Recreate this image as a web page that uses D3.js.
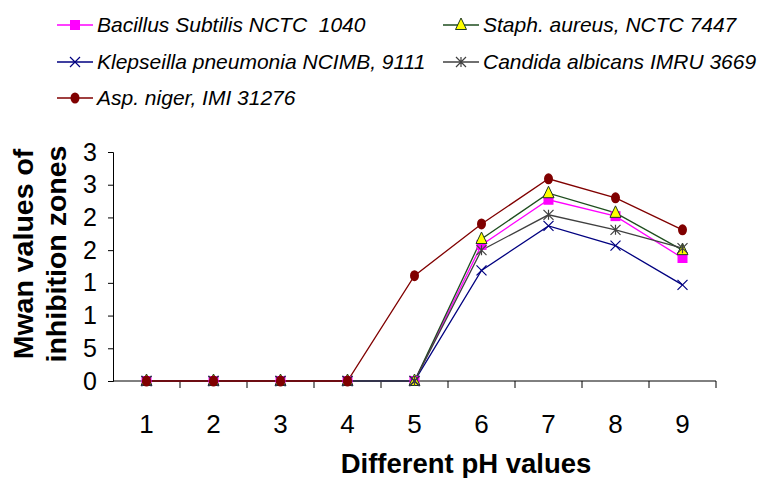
<!DOCTYPE html>
<html>
<head>
<meta charset="utf-8">
<script src="https://cdn.jsdelivr.net/npm/d3@7"></script>
<style>
  body { margin: 0; background: #fff; }
  svg { font-family: "Liberation Sans", Arial, sans-serif; }
</style>
</head>
<body>
<div id="app"></div>
<script>
const width = 762
const height = 478

// data
const phValues = ['1', '2', '3', '4', '5', '6', '7', '8', '9']
const bacillus = [0, 0, 0, 0, 0, 2.08, 2.77, 2.52, 1.88]
const staph = [0, 0, 0, 0, 0, 2.17, 2.87, 2.57, 2.00]
const klebsiella = [0, 0, 0, 0, 0, 1.69, 2.37, 2.07, 1.47]
const candida = [0, 0, 0, 0, 0, 2.00, 2.54, 2.31, 2.03]
const aspNiger = [0, 0, 0, 0, 1.61, 2.40, 3.09, 2.80, 2.31]
const yTicks = [0, 0.5, 1, 1.5, 2, 2.5, 3, 3.5]
const yTickLabels = ['0', '5', '1', '1', '2', '2', '3', '3']

const series = [
  { name: 'Bacillus Subtilis NCTC  1040', values: bacillus, color: '#ff00ff', marker: 'square' },
  { name: 'Staph. aureus, NCTC 7447', values: staph, color: '#1e4d1e', marker: 'triangle' },
  { name: 'Klepseilla pneumonia NCIMB, 9111', values: klebsiella, color: '#000080', marker: 'x' },
  { name: 'Candida albicans IMRU 3669', values: candida, color: '#404040', marker: 'star' },
  { name: 'Asp. niger, IMI 31276', values: aspNiger, color: '#800000', marker: 'circle' }
]

const plot = { left: 113, right: 716, top: 152, bottom: 381 }

const svg = d3.select('#app').append('svg')
  .attr('width', width)
  .attr('height', height)

const x = d3.scaleBand()
  .domain(phValues)
  .range([plot.left, plot.right])

const y = d3.scaleLinear()
  .domain([0, 3.5])
  .range([plot.bottom, plot.top])

// axes
const xAxis = svg.append('g')
  .attr('transform', `translate(0,${plot.bottom})`)
  .call(d3.axisBottom(x).tickSize(0).tickPadding(34))
xAxis.select('.domain').remove()
xAxis.selectAll('text').attr('font-size', 26).attr('fill', '#000')
  .attr('font-family', '"Liberation Sans", Arial, sans-serif')

// boundary ticks for the category axis
svg.append('g').selectAll('line')
  .data(phValues)
  .join('line')
  .attr('x1', d => x(d) + x.bandwidth())
  .attr('x2', d => x(d) + x.bandwidth())
  .attr('y1', plot.bottom)
  .attr('y2', plot.bottom + 7)
  .attr('stroke', '#000')
  .attr('stroke-width', 1)

const yAxis = svg.append('g')
  .attr('transform', `translate(${plot.left},0)`)
  .call(d3.axisLeft(y).tickValues(yTicks).tickSize(5).tickPadding(11)
    .tickFormat((d, i) => yTickLabels[i]))
yAxis.select('.domain').attr('stroke', '#000')
yAxis.selectAll('text').attr('font-size', 25).attr('fill', '#000')
  .attr('font-family', '"Liberation Sans", Arial, sans-serif')

svg.append('line')
  .attr('x1', plot.left).attr('x2', plot.right)
  .attr('y1', plot.bottom).attr('y2', plot.bottom)
  .attr('stroke', '#000')

// axis titles
svg.append('text')
  .attr('x', 466).attr('y', 473)
  .attr('text-anchor', 'middle')
  .attr('font-weight', 'bold')
  .attr('font-size', 27.5)
  .text('Different pH values')

const yTitle = svg.append('text')
  .attr('transform', 'translate(0,254) rotate(-90)')
  .attr('text-anchor', 'middle')
  .attr('font-weight', 'bold')
  .attr('font-size', 28.5)
yTitle.append('tspan').attr('x', 0).attr('y', 33).text('Mwan values of')
yTitle.append('tspan').attr('x', 0).attr('y', 66).text('inhibition zones')

function drawMarker(g, type, color, size) {
  const s = size
  if (type === 'square') {
    g.append('rect').attr('x', -s / 2).attr('y', -s / 2).attr('width', s).attr('height', s)
      .attr('fill', color)
  } else if (type === 'triangle') {
    g.append('path').attr('d', `M0,${-s * 0.7}L${s * 0.55},${s * 0.45}L${-s * 0.55},${s * 0.45}Z`)
      .attr('fill', '#ffff00').attr('stroke', '#1e3a1e').attr('stroke-width', 1)
  } else if (type === 'x') {
    const h = s / 2
    g.append('path').attr('d', `M${-h},${-h}L${h},${h}M${-h},${h}L${h},${-h}`)
      .attr('stroke', color).attr('stroke-width', 1.2).attr('fill', 'none')
  } else if (type === 'star') {
    const h = s / 2
    g.append('path').attr('d', `M${-h},${-h}L${h},${h}M${-h},${h}L${h},${-h}M0,${-h}L0,${h}`)
      .attr('stroke', color).attr('stroke-width', 1.2).attr('fill', 'none')
  } else if (type === 'circle') {
    g.append('ellipse').attr('rx', s * 0.45).attr('ry', s * 0.55).attr('fill', color)
  }
}

const line = d3.line()
  .x((d, i) => x(phValues[i]) + x.bandwidth() / 2)
  .y(d => y(d))

series.forEach(s => {
  svg.append('path')
    .datum(s.values)
    .attr('d', line)
    .attr('fill', 'none')
    .attr('stroke', s.color)
    .attr('stroke-width', 1.3)
})

series.forEach(s => {
  svg.append('g').selectAll('g')
    .data(s.values)
    .join('g')
    .attr('transform', (d, i) => `translate(${x(phValues[i]) + x.bandwidth() / 2},${y(d)})`)
    .each(function () { drawMarker(d3.select(this), s.marker, s.color, 10) })
})

// legend
const legendPos = [
  { x: 57, y: 25 }, { x: 443, y: 25 },
  { x: 57, y: 62 }, { x: 443, y: 62 },
  { x: 57, y: 98 }
]
series.forEach((s, i) => {
  const p = legendPos[i]
  const g = svg.append('g').attr('transform', `translate(${p.x},${p.y})`)
  g.append('line').attr('x1', 0).attr('x2', 36).attr('y1', 0).attr('y2', 0)
    .attr('stroke', s.color).attr('stroke-width', 1.3)
  drawMarker(g.append('g').attr('transform', 'translate(18,0)'), s.marker, s.color, 10)
  g.append('text')
    .attr('x', 40).attr('y', 0)
    .attr('dy', '0.35em')
    .attr('font-size', 21)
    .attr('font-style', 'italic')
    .style('white-space', 'pre')
    .text(s.name)
})
</script>
</body>
</html>
